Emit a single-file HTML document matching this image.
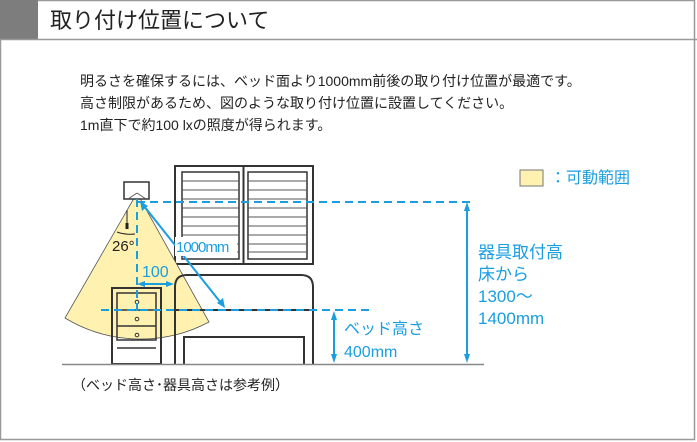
<!DOCTYPE html>
<html><head><meta charset="utf-8"><style>
body{margin:0;width:697px;height:442px;background:#fff;overflow:hidden;font-family:"Liberation Sans","Noto Sans CJK JP",sans-serif}
</style></head><body>
<svg width="697" height="442" xmlns="http://www.w3.org/2000/svg" style="position:absolute;left:0;top:0">
<rect x="0.5" y="0.5" width="694" height="439" fill="#fff" stroke="#999" stroke-width="1.5"/>
<rect x="0" y="0" width="38" height="39" fill="#7d7d7d"/>
<line x1="0" y1="39.5" x2="697" y2="39.5" stroke="#999" stroke-width="1.5"/>
<text x="50" y="28" font-size="22" fill="#222">取り付け位置について</text>
<g font-size="14" fill="#222">
<text x="80" y="86">明るさを確保するには、ベッド面より1000mm前後の取り付け位置が最適です。</text>
<text x="80" y="108">高さ制限があるため、図のような取り付け位置に設置してください。</text>
<text x="80" y="130">1m直下で約100 lxの照度が得られます。</text>
</g>
<!-- window -->
<rect x="175" y="166" width="138" height="98" fill="#fff" stroke="#333" stroke-width="2"/>
<rect x="182" y="172" width="57" height="87" fill="#fff" stroke="#333" stroke-width="1.5"/>
<rect x="248" y="172" width="59" height="87" fill="#fff" stroke="#333" stroke-width="1.5"/>
<line x1="243.5" y1="166" x2="243.5" y2="264" stroke="#333" stroke-width="2"/>
<g stroke="#555" stroke-width="1">
<path d="M182 181H239M182 190H239M182 199H239M182 208H239M182 217H239M182 226H239M182 235H239M182 244H239M182 252H239"/>
<path d="M248 181H307M248 190H307M248 199H307M248 208H307M248 217H307M248 226H307M248 235H307M248 244H307M248 252H307"/>
</g>
<!-- cone -->
<path d="M137 193L65 318A146 146 0 0 0 209 322Z" fill="#fff2b0" stroke="#555" stroke-width="0.8"/>
<!-- bed -->
<path d="M175 364V287Q175 275 187 275H301Q313 275 313 287V364" fill="none" stroke="#333" stroke-width="2"/>
<line x1="175" y1="310" x2="313" y2="310" stroke="#333" stroke-width="2"/>
<path d="M184 364V337H304V364" fill="none" stroke="#333" stroke-width="2"/>
<!-- nightstand -->
<rect x="112" y="288" width="49" height="76" fill="none" stroke="#333" stroke-width="2"/>
<rect x="117" y="293" width="39" height="47" fill="none" stroke="#333" stroke-width="1.5"/>
<path d="M117 310H156M117 326H156M117 348H156" stroke="#333" stroke-width="1.5"/>
<g fill="none" stroke="#333" stroke-width="1"><circle cx="137" cy="302" r="1.8"/><circle cx="137" cy="319" r="1.8"/><circle cx="137" cy="335" r="1.8"/></g>
<!-- fixture -->
<rect x="124" y="182" width="25" height="17" fill="#fff" stroke="#333" stroke-width="1.5"/>
<path d="M137 193L128 199M137 193L146 199" stroke="#555" stroke-width="0.8"/>
<line x1="127" y1="210" x2="127" y2="228" stroke="#222" stroke-width="1"/>
<rect x="125.5" y="223" width="3" height="6" fill="#222"/>
<path d="M117 232Q125 235 135 234" fill="none" stroke="#222" stroke-width="1"/>
<text x="112" y="251" font-size="15" fill="#222">26°</text>
<!-- floor -->
<line x1="62" y1="364.5" x2="484" y2="364.5" stroke="#888" stroke-width="1.5"/>
<!-- blue dims -->
<g stroke="#1a9ee0" stroke-width="2" fill="none" stroke-dasharray="8,5">
<path d="M137 202H470"/><path d="M137 199V312"/><path d="M101 310H373"/>
</g>
<g stroke="#1a9ee0" stroke-width="2" fill="#1a9ee0">
<line x1="142" y1="284" x2="168" y2="284"/>
<path d="M137 284l8-3v6z" stroke="none"/><path d="M174 284l-8-3v6z" stroke="none"/>
<line x1="144" y1="206" x2="221" y2="303"/>
<path d="M140 201l2 10 6-5z" stroke="none"/><path d="M225 308l-2-10-6 5z" stroke="none"/>
<line x1="467" y1="210" x2="467" y2="356"/>
<path d="M467 202l-3 9h6z" stroke="none"/><path d="M467 363l-3-9h6z" stroke="none"/>
<line x1="334" y1="318" x2="334" y2="356"/>
<path d="M334 311l-3 9h6z" stroke="none"/><path d="M334 363l-3-9h6z" stroke="none"/>
</g>
<rect x="175" y="237" width="62" height="19" fill="#fff"/>
<g fill="#1a9ee0">
<text x="176" y="252" font-size="15" letter-spacing="-1">1000mm</text>
<text x="142" y="277" font-size="16">100</text>
<text x="344" y="334" font-size="16">ベッド高さ</text>
<text x="344" y="357" font-size="16">400mm</text>
<text x="478" y="258" font-size="17">器具取付高</text>
<text x="478" y="280" font-size="17">床から</text>
<text x="478" y="302" font-size="17">1300～</text>
<text x="478" y="324" font-size="17">1400mm</text>
<text x="550" y="183" font-size="16">：可動範囲</text>
</g>
<rect x="520" y="170" width="23" height="16" fill="#fff2b0" stroke="#777" stroke-width="1"/>
<text x="72" y="390" font-size="14" fill="#222">（ベッド高さ･器具高さは参考例）</text>
</svg>
</body></html>
